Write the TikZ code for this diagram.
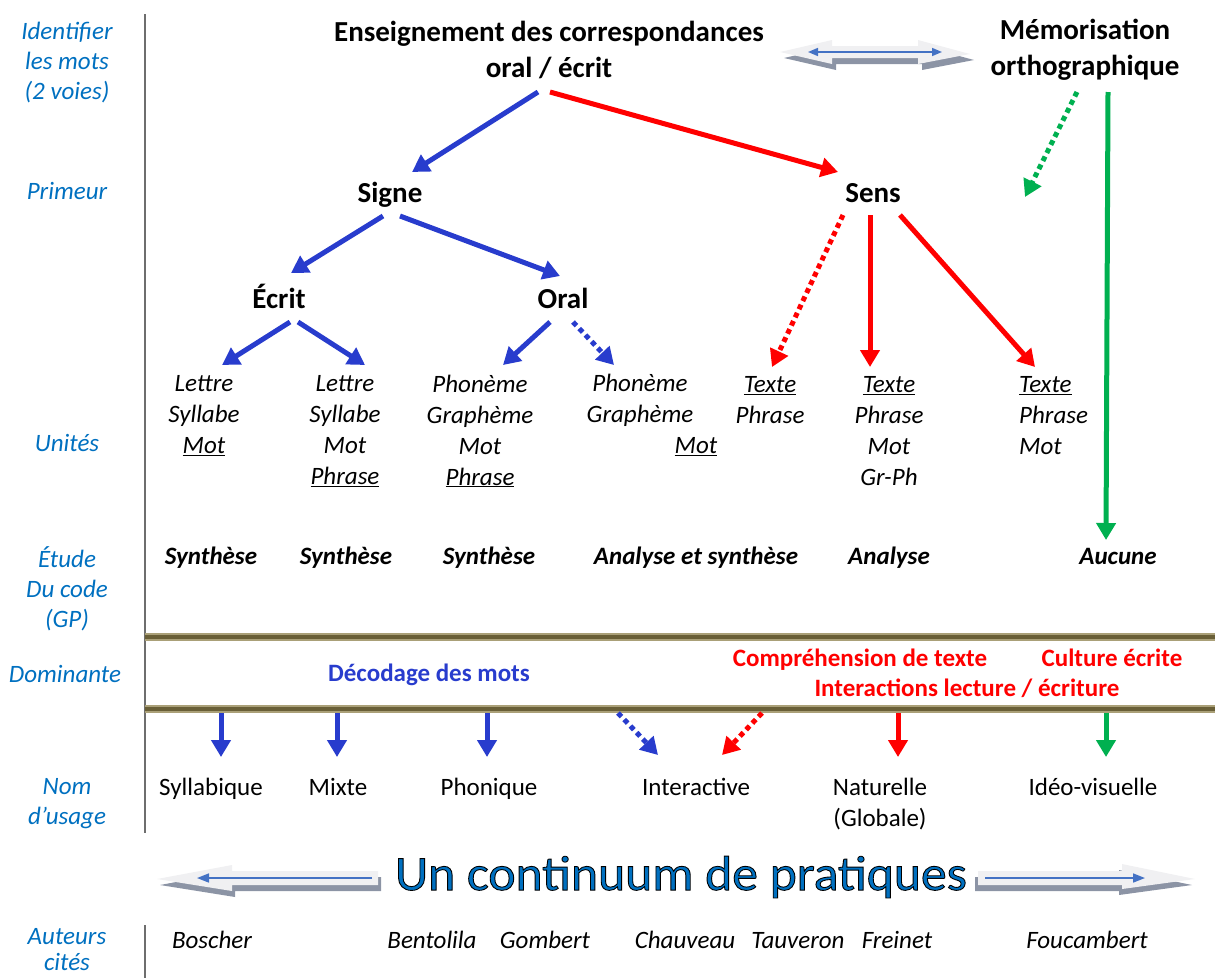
\documentclass[tikz,border=0pt]{standalone}
\usepackage{fontspec}
\setmainfont{Carlito}
\usepackage{graphicx}
\usetikzlibrary{arrows.meta,calc}

\definecolor{lblue}{RGB}{0,112,192}
\definecolor{ablue}{RGB}{40,60,205}
\definecolor{ared}{RGB}{255,0,0}
\definecolor{agreen}{RGB}{0,176,80}
\definecolor{vline}{RGB}{110,110,110}
\definecolor{bandout}{RGB}{170,160,120}
\definecolor{bandin}{RGB}{105,95,55}
\definecolor{arrlight}{RGB}{240,240,242}
\definecolor{arrshadow}{RGB}{140,148,165}
\definecolor{arrline}{RGB}{68,114,196}
\definecolor{contblue}{RGB}{0,112,192}

\tikzset{
 side/.style={font=\fontsize{25}{30}\selectfont\itshape, text=lblue, align=center, inner sep=0pt},
 head/.style={font=\fontsize{29}{36}\selectfont\bfseries, align=center, inner sep=0pt},
 onehead/.style={head, text height=24pt, text depth=5pt},
 unit/.style={font=\fontsize{25}{31}\selectfont\itshape, align=center, inner sep=0pt},
 etude/.style={font=\fontsize{25}{31}\selectfont\bfseries\itshape, inner sep=0pt, text height=18pt, text depth=5pt},
 dom/.style={font=\fontsize{25}{30}\selectfont\bfseries, align=center, inner sep=0pt, text height=18pt, text depth=5pt},
 usage/.style={font=\fontsize{25}{31}\selectfont, align=center, inner sep=0pt},
 oneusage/.style={usage, text height=18pt, text depth=5pt},
 auteur/.style={font=\fontsize{25}{30}\selectfont\itshape, inner sep=0pt, text height=18pt, text depth=5pt},
 arr/.style={line width=5pt, -{Triangle[length=17pt,width=19pt]}},
 sqdots/.style={dash pattern=on 5pt off 4pt},
 thinarr/.style={line width=1.6pt, arrline},
 blocklight/.style={fill=arrlight, draw=none},
 blockshadow/.style={fill=arrshadow, draw=none},
 band/.style={line width=8pt, bandout},
 bandcore/.style={line width=4.5pt, bandin},
}

\begin{document}
\begin{tikzpicture}[x=1pt,y=-1pt]
\useasboundingbox (0,0) rectangle (1215,978);

% separators
\draw[vline, line width=1.5pt] (145,14) -- (145,833);
\draw[vline, line width=1.5pt] (145,925) -- (145,978);
\draw[band] (145,637) -- (1215,637);
\draw[bandcore] (145,637) -- (1215,637);
\draw[band] (145,709) -- (1215,709);
\draw[bandcore] (145,709) -- (1215,709);

% side labels
\node[side] (l1) at (67,63) {Identifier\\les mots\\(2 voies)};
\node[side] (l2) at (67,191) {Primeur};
\node[side] (l3) at (67,443) {Unités};
\node[side] (l4) at (67,589) {Étude\\Du code\\(GP)};
\node[side] (l5) at (65,674) {Dominante};
\node[side] (l6) at (67,804) {Nom\\d’usage};
\node[side, font=\fontsize{25}{26}\selectfont\itshape] (l7) at (67,950) {Auteurs\\cités};

% headings
\node[head] (ens) at (549,50) {Enseignement des correspondances\\oral / écrit};
\node[head] (mem) at (1085,50) {Mémorisation\\orthographique};
\node[onehead] (signe) at (390,193) {Signe};
\node[onehead] (sens) at (873,193) {Sens};
\node[onehead] (ecrit) at (279,299) {Écrit};
\node[onehead] (oral) at (563,299) {Oral};

% units
\node[unit] (u1) at (204,416) {Lettre\\Syllabe\\\underline{Mot}};
\node[unit] (u2) at (345,431) {Lettre\\Syllabe\\Mot\\\underline{Phrase}};
\node[unit] (u3) at (480,431) {Phonème\\Graphème\\Mot\\\underline{Phrase}};
\node[unit] (u4) at (640,400) {Phonème\\Graphème};
\node[unit] (u4b) at (696,447) {\underline{Mot}};
\node[unit] (u5) at (770,400) {\underline{Texte}\\Phrase};
\node[unit] (u6) at (889,431) {\underline{Texte}\\Phrase\\Mot\\Gr-Ph};
\node[unit, align=left, anchor=west] (u7) at (1019,416) {\underline{Texte}\\Phrase\\Mot};

% etude
\node[etude] (e1) at (211,558) {Synthèse};
\node[etude] (e2) at (346,558) {Synthèse};
\node[etude] (e3) at (489,558) {Synthèse};
\node[etude] (e4) at (696,558) {Analyse et synthèse};
\node[etude] (e5) at (889,558) {Analyse};
\node[etude] (aucune) at (1118,558) {Aucune};

% dominante
\node[dom, text=ablue] (d1) at (429,675) {Décodage des mots};
\node[dom, text=ared] (d2) at (860,660) {Compréhension de texte};
\node[dom, text=ared] (d3) at (1112,660) {Culture écrite};
\node[dom, text=ared] (d4) at (967,690) {Interactions lecture / écriture};

% usage
\node[oneusage] (syll) at (211,789) {Syllabique};
\node[oneusage] (mixte) at (338,789) {Mixte};
\node[oneusage] (phon) at (489,789) {Phonique};
\node[oneusage] (inter) at (696,789) {Interactive};
\node[usage] (nat) at (880,804) {Naturelle\\(Globale)};
\node[oneusage] (ideo) at (1093,789) {Idéo-visuelle};

% auteurs
\node[auteur] (a1) at (212,942) {Boscher};
\node[auteur] (a2) at (432,942) {Bentolila};
\node[auteur] (a3) at (545,942) {Gombert};
\node[auteur] (a4) at (685,942) {Chauveau};
\node[auteur] (a5) at (798,942) {Tauveron};
\node[auteur] (a6) at (897,942) {Freinet};
\node[auteur] (a7) at (1087,942) {Foucambert};

% top double block arrow
\fill[blockshadow, shift={(4,6)}] (780,52) -- (832,40) -- (832,46) -- (918,46) -- (918,40) -- (970,54) -- (918,64) -- (918,58) -- (832,58) -- (832,64) -- cycle;
\fill[blocklight] (780,52) -- (832,40) -- (832,46) -- (918,46) -- (918,40) -- (970,54) -- (918,64) -- (918,58) -- (832,58) -- (832,64) -- cycle;
\draw[thinarr, {Triangle[length=10pt,width=8pt]}-{Triangle[length=10pt,width=8pt]}] (808,52) -- (942,52);

% continuum block arrows
\fill[blockshadow, shift={(3,6)}] (157,879) -- (232,865) -- (232,871) -- (378,871) -- (378,885) -- (232,885) -- (232,891) -- cycle;
\fill[blocklight] (157,879) -- (232,865) -- (232,871) -- (378,871) -- (378,885) -- (232,885) -- (232,891) -- cycle;
\draw[thinarr, -{Triangle[length=12pt,width=9pt]}] (372,878) -- (197,878);
\fill[blockshadow, shift={(-3,6)}] (978,871) -- (1122,871) -- (1122,864) -- (1195,879) -- (1122,889) -- (1122,885) -- (978,885) -- cycle;
\fill[blocklight] (978,871) -- (1122,871) -- (1122,864) -- (1195,879) -- (1122,889) -- (1122,885) -- (978,885) -- cycle;
\draw[thinarr, -{Triangle[length=12pt,width=9pt]}] (985,878) -- (1145,878);

\node[inner sep=0pt, text=contblue] (cont) at (681,877) {\resizebox{572pt}{34pt}{\fontsize{51}{51}\selectfont\special{pdf:literal direct 2 Tr 0.9 w 0 0 0 RG}Un continuum de pratiques\special{pdf:literal direct 0 Tr}}};

% tree arrows
\draw[arr, ablue] ($(ens)+(-11,42)$) -- ($(signe)+(22,-21)$);
\draw[arr, ared] ($(ens)+(1,42)$) -- ($(sens)+(-35,-21)$);
\draw[arr, ablue] ($(signe)+(-7,23)$) -- ($(ecrit)+(12,-26)$);
\draw[arr, ablue] ($(signe)+(10,23)$) -- ($(oral)+(-3,-23)$);
\draw[arr, ablue] ($(ecrit)+(11,23)$) -- ($(u1)+(18,-51)$);
\draw[arr, ablue] ($(ecrit)+(19,23)$) -- ($(u2)+(20,-66)$);
\draw[arr, ablue] ($(oral)+(-13,23)$) -- ($(u3)+(23,-66)$);
\draw[arr, ablue, sqdots] ($(oral)+(10,23)$) -- ($(u4)+(-26,-35)$);
\draw[arr, ared, sqdots] ($(sens)+(-30,22)$) -- ($(u5)+(2,-33)$);
\draw[arr, ared] ($(sens)+(-3,22)$) -- ($(u6)+(-19,-64)$);
\draw[arr, ared] ($(sens)+(27,22)$) -- ($(u7.west)+(16,-49)$);
\coordinate (memend) at (1025,197);
\draw[arr, agreen, sqdots] ($(mem)+(-8,42)$) -- (memend);
\draw[arr, agreen] ($(mem)+(23,42)$) -- ($(aucune)+(-12,-18)$);

% arrows below band
\coordinate (b1) at (221,713);
\coordinate (b2) at (337,713);
\coordinate (b3) at (487,713);
\coordinate (b4) at (618,713);
\coordinate (b5) at (762,713);
\coordinate (b6) at (898,713);
\coordinate (b7) at (1106,713);
\draw[arr, ablue] (b1) -- ($(syll)+(10,-32)$);
\draw[arr, ablue] (b2) -- ($(mixte)+(-1,-32)$);
\draw[arr, ablue] (b3) -- ($(phon)+(-2,-32)$);
\draw[arr, ablue, sqdots] (b4) -- ($(inter)+(-38,-34)$);
\draw[arr, ared, sqdots] (b5) -- ($(inter)+(26,-34)$);
\draw[arr, ared] (b6) -- ($(nat)+(18,-47)$);
\draw[arr, agreen] (b7) -- ($(ideo)+(13,-32)$);
\end{tikzpicture}
\end{document}
